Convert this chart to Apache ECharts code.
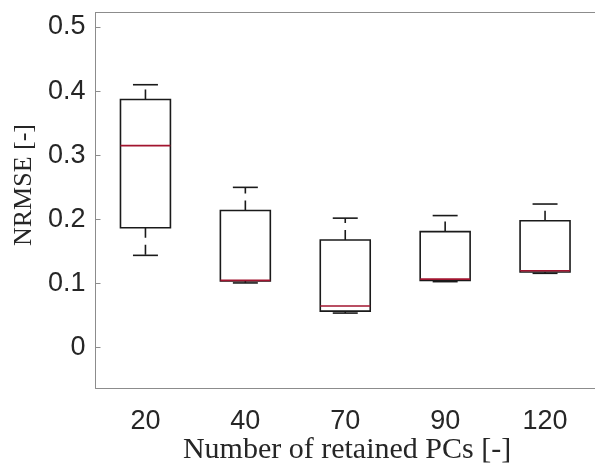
<!DOCTYPE html>
<html>
<head>
<meta charset="utf-8">
<script src="https://cdn.jsdelivr.net/npm/echarts@6/dist/echarts.min.js"></script>
<style>
html,body{margin:0;padding:0;background:#fff;}
#chart{width:595px;height:463px;}
</style>
</head>
<body>
<div id="chart"></div>
<script>
// Data
var categories = ['20', '40', '70', '90', '120'];
var minVals    = [0.144, 0.101, 0.054, 0.103, 0.116];
var q1Vals     = [0.187, 0.104, 0.057, 0.105, 0.118];
var medianVals = [0.315, 0.105, 0.065, 0.107, 0.120];
var q3Vals     = [0.387, 0.214, 0.168, 0.181, 0.198];
var maxVals    = [0.410, 0.250, 0.202, 0.206, 0.224];
var yTicks     = [0, 0.1, 0.2, 0.3, 0.4, 0.5];

var boxData = categories.map(function (c, i) {
  return [i, minVals[i], q1Vals[i], medianVals[i], q3Vals[i], maxVals[i]];
});

var chart = echarts.init(document.getElementById('chart'), null, {renderer: 'canvas'});

function renderBox(params, api) {
  var x = api.value(0);
  var pMin = api.coord([x, api.value(1)]);
  var pQ1 = api.coord([x, api.value(2)]);
  var pMed = api.coord([x, api.value(3)]);
  var pQ3 = api.coord([x, api.value(4)]);
  var pMax = api.coord([x, api.value(5)]);
  var bw = api.size([1, 0])[0] * 0.5;
  var cw = bw * 0.5;
  var cx = pQ1[0];
  var black = {stroke: '#1a1a1a', lineWidth: 1.6, fill: null};
  var dashed = {stroke: '#1a1a1a', lineWidth: 1.6, lineDash: [10, 7], fill: null};
  return {
    type: 'group',
    children: [
      {type: 'line', shape: {x1: cx, y1: pQ3[1], x2: cx, y2: pMax[1]}, style: dashed},
      {type: 'line', shape: {x1: cx, y1: pQ1[1], x2: cx, y2: pMin[1]}, style: dashed},
      {type: 'line', shape: {x1: cx - cw / 2, y1: pMax[1], x2: cx + cw / 2, y2: pMax[1]}, style: black},
      {type: 'line', shape: {x1: cx - cw / 2, y1: pMin[1], x2: cx + cw / 2, y2: pMin[1]}, style: black},
      {type: 'rect', shape: {x: cx - bw / 2, y: pQ3[1], width: bw, height: pQ1[1] - pQ3[1]}, style: black},
      {type: 'line', shape: {x1: cx - bw / 2, y1: pMed[1], x2: cx + bw / 2, y2: pMed[1]}, style: {stroke: '#A2142F', lineWidth: 1.6}}
    ]
  };
}

var axisGray = '#8c8c8c';
var labelColor = '#262626';

chart.setOption({
  animation: false,
  backgroundColor: '#fff',
  grid: {left: 95.5, top: 12.5, width: 505, height: 375.5, containLabel: false},
  xAxis: [{
    type: 'category',
    data: categories,
    position: 'bottom',
    boundaryGap: true,
    axisLine: {onZero: false, lineStyle: {color: axisGray, width: 1}},
    axisTick: {inside: true, length: 5, alignWithLabel: true, lineStyle: {color: axisGray}},
    axisLabel: {color: labelColor, fontFamily: 'Liberation Sans', fontSize: 27, margin: 20},
    splitLine: {show: false}
  }, {
    type: 'category',
    data: categories,
    position: 'top',
    boundaryGap: true,
    axisLine: {onZero: false, lineStyle: {color: axisGray, width: 1}},
    axisTick: {inside: true, length: 5, alignWithLabel: true, lineStyle: {color: axisGray}},
    axisLabel: {show: false},
    splitLine: {show: false}
  }],
  yAxis: {
    type: 'value',
    min: -0.0628,
    max: 0.5226,
    axisLine: {show: true, onZero: false, lineStyle: {color: axisGray, width: 1}},
    axisTick: {show: true, inside: true, length: 5, customValues: yTicks, lineStyle: {color: axisGray}},
    axisLabel: {color: labelColor, fontFamily: 'Liberation Sans', fontSize: 27, margin: 10, customValues: yTicks,
      formatter: function (v) { return String(Math.round(v * 10) / 10); }},
    splitLine: {show: false}
  },
  graphic: [
    {type: 'text', x: 347, y: 450, style: {text: 'Number of retained PCs [-]', font: '30px "Liberation Serif"', fill: labelColor, textAlign: 'center', textVerticalAlign: 'middle'}},
    {type: 'text', rotation: Math.PI / 2, x: 24, y: 185, style: {text: 'NRMSE [-]', font: '26px "Liberation Serif"', fill: labelColor, textAlign: 'center', textVerticalAlign: 'middle'}}
  ],
  series: [{
    type: 'custom',
    xAxisIndex: 0,
    renderItem: renderBox,
    data: boxData,
    encode: {x: 0, y: [1, 2, 3, 4, 5]},
    silent: true
  }]
});
</script>
</body>
</html>
